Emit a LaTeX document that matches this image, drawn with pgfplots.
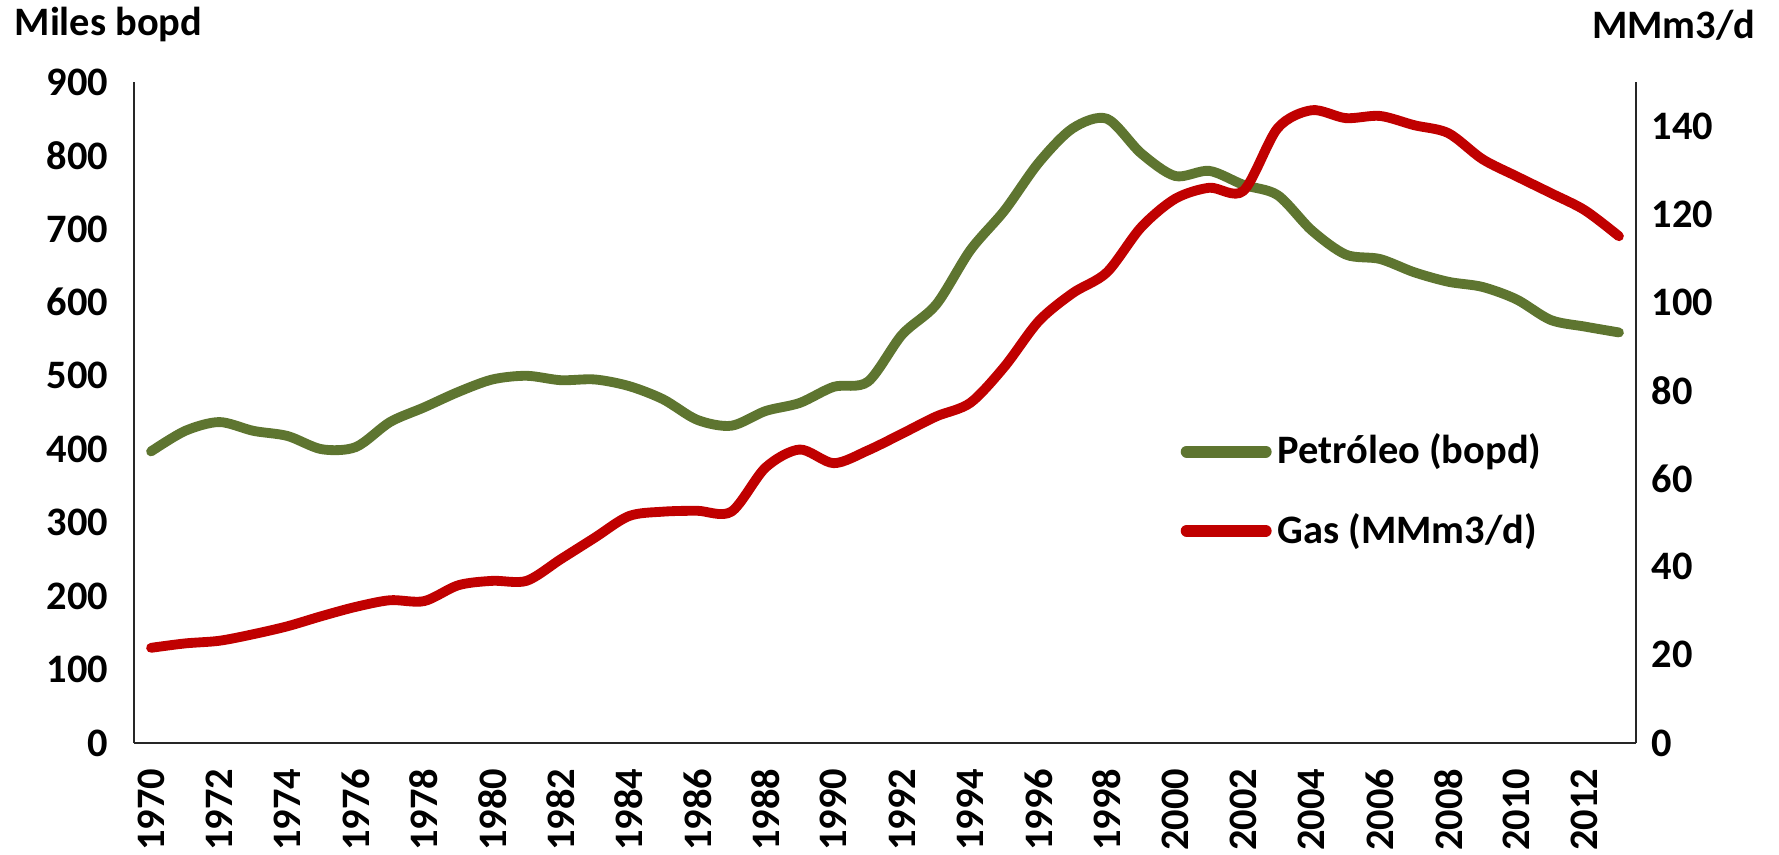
\documentclass[border=0pt]{standalone}
\usepackage{fontspec}
\setmainfont{Carlito}
\usepackage{pgfplots}
\usepackage{pgfplotstable}
\pgfplotsset{compat=1.18}
\definecolor{oilgreen}{RGB}{94,117,48}
\definecolor{gasred}{RGB}{192,0,0}

\pgfplotstableread{
year oil gas
1970 397 21.6
1971 425 22.6
1972 437 23.2
1973 425 24.7
1974 418 26.5
1975 400 28.8
1976 403 30.9
1977 437 32.4
1978 457 32.2
1979 478 35.8
1980 495 36.8
1981 500 36.8
1982 494 41.7
1983 495 46.6
1984 486 51.5
1985 468 52.5
1986 440 52.7
1987 432 52.5
1988 452 62.5
1989 463 66.6
1990 485 63.5
1991 492 66.4
1992 556 70.2
1993 597 74.1
1994 671 77.2
1995 725 85.4
1996 790 95.7
1997 837 102.1
1998 850 106.8
1999 803 117.0
2000 772 123.5
2001 779 126.0
2002 760 125.3
2003 746 139.5
2004 698 143.6
2005 665 141.8
2006 659 142.3
2007 641 140.2
2008 628 138.4
2009 621 132.5
2010 604 128.6
2011 576 124.8
2012 567 120.9
2013 559 115.0
}\data

\begin{document}
\begin{tikzpicture}[font=\bfseries\fontsize{11.5}{13}\selectfont]
\path (-13.4mm,-11.1mm) rectangle (164.5mm,74.3mm);
\begin{axis}[
  at={(0,0)}, anchor=south west,
  width=150.2mm, height=66.1mm, scale only axis,
  xmin=1969.5, xmax=2013.5, ymin=0, ymax=900,
  axis x line*=bottom, axis y line*=left,
  axis line style={line width=0.8pt, black!85, -},
  xtick={1970,1972,...,2012},
  ytick={0,100,...,900},
  major tick length=0pt,
  /pgf/number format/assume math mode=true,
  /pgf/number format/1000 sep={},
  x tick label style={rotate=90, anchor=east, inner sep=0pt, font=\bfseries\fontsize{11.5}{13}\selectfont},
  y tick label style={inner sep=0pt, font=\bfseries\fontsize{11.5}{13}\selectfont},
  xticklabel shift=2.5mm,
  yticklabel shift=2.5mm,
]
\addplot[oilgreen, line width=2.8pt, smooth, line join=round, line cap=round] table[x=year, y=oil]{\data};
\end{axis}
\begin{axis}[
  at={(0,0)}, anchor=south west,
  width=150.2mm, height=66.1mm, scale only axis,
  xmin=1969.5, xmax=2013.5, ymin=0, ymax=150,
  axis y line*=right, axis x line=none,
  axis line style={line width=0.8pt, black!85, -},
  ytick={0,20,...,140},
  major tick length=0pt,
  /pgf/number format/assume math mode=true,
  y tick label style={inner sep=0pt, font=\bfseries\fontsize{11.5}{13}\selectfont},
  yticklabel shift=1.5mm,
  legend style={draw=none, fill=none, at={(0.6964,0.381)}, anchor=west,
    inner sep=0pt, row sep=3.2mm, font=\bfseries\fontsize{11.5}{13}\selectfont,
    nodes={inner sep=0.6mm}},
  legend cell align=left,
  legend image code/.code={\draw[#1, line width=3.4pt, line cap=round] (0.6mm,0mm) -- (8.5mm,0mm);},
]
\addlegendimage{oilgreen}
\addlegendentry{Petróleo (bopd)}
\addplot[gasred, line width=2.8pt, smooth, line join=round, line cap=round] table[x=year, y=gas]{\data};
\addlegendentry{Gas (MMm3/d)}
\end{axis}
\node[anchor=west, inner sep=0pt] at (-12mm,71.8mm) {Miles bopd};
\node[anchor=east, inner sep=0pt] at (162.2mm,71.8mm) {MMm3/d};
\end{tikzpicture}
\end{document}
